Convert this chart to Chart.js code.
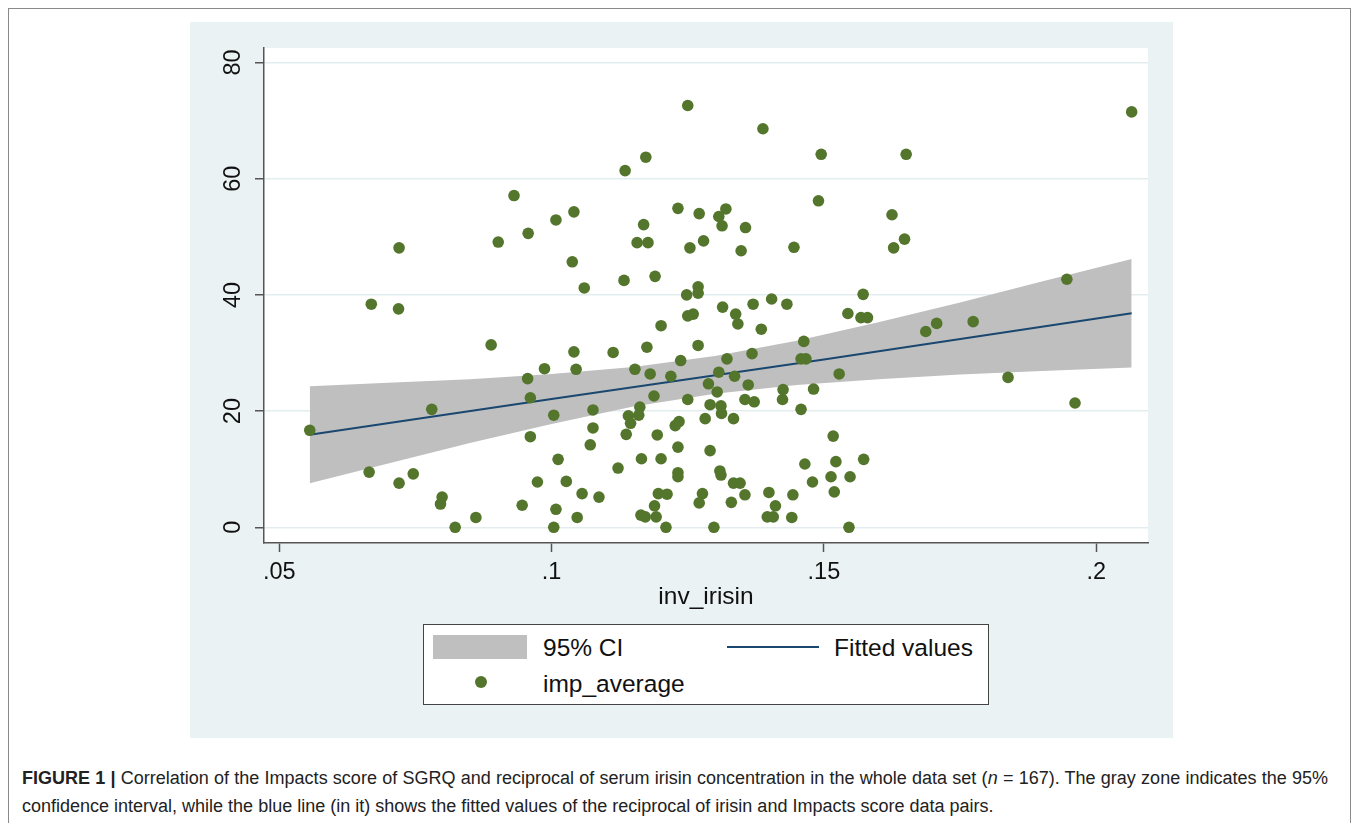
<!DOCTYPE html>
<html>
<head>
<meta charset="utf-8">
<script src="https://cdn.jsdelivr.net/npm/chart.js@4.4.1/dist/chart.umd.min.js"></script>
<style>
  html, body { margin: 0; padding: 0; background: #fff; }
  body { width: 1358px; height: 823px; position: relative; overflow: hidden; font-family: "Liberation Sans", Arial, sans-serif; }
  #frame { position: absolute; left: 8px; top: 8px; width: 1341px; height: 900px; border: 1px solid #8a8a8a; }
  #panel { position: absolute; left: 190px; top: 22px; width: 983px; height: 716px; background: #eaf2f3; }
  #myChart { position: absolute; left: 0; top: 0; }
  #legend { position: absolute; left: 233px; top: 602px; width: 564px; height: 79px; background: #fff; border: 1px solid #444; color: #111; font-size: 24.5px; }
  #legend .sw { position: absolute; }
  #legend .tx { position: absolute; line-height: 26px; white-space: nowrap; }
  #caption { position: absolute; left: 22px; top: 765px; width: 1306px; font-size: 18px; line-height: 27.5px; color: #222; text-align: justify; }
</style>
</head>
<body>
<div id="frame"></div>
<div id="panel">
  <canvas id="myChart" width="983" height="716"></canvas>
  <div id="legend">
    <div class="sw" style="left:9px;top:10px;width:94px;height:24px;background:#bfbfbf;"></div>
    <div class="tx" style="left:119px;top:10px;">95% CI</div>
    <div class="sw" style="left:303px;top:21px;width:92px;height:2px;background:#1a476f;"></div>
    <div class="tx" style="left:410px;top:10px;">Fitted values</div>
    <div class="sw" style="left:51px;top:51px;width:12px;height:12px;border-radius:50%;background:#54762c;"></div>
    <div class="tx" style="left:119px;top:46px;">imp_average</div>
  </div>
</div>
<div id="caption"><b>FIGURE 1 |</b> Correlation of the Impacts score of SGRQ and reciprocal of serum irisin concentration in the whole data set (<i>n</i> = 167). The gray zone indicates the 95% confidence interval, while the blue line (in it) shows the fitted values of the reciprocal of irisin and Impacts score data pairs.</div>
<script>
// scatter values
const invIrisin = [
  0.0556, 0.0669, 0.0719, 0.0720, 0.0665, 0.0720, 0.0746, 0.0780, 0.0799, 0.0796,
  0.0823, 0.0861, 0.0889, 0.0902, 0.0931, 0.0957, 0.0956, 0.0961, 0.0961, 0.0946,
  0.0974, 0.0987, 0.1008, 0.1004, 0.1012, 0.1008, 0.1004, 0.1027, 0.1041, 0.1038,
  0.1041, 0.1045, 0.1047, 0.1056, 0.1060, 0.1076, 0.1076, 0.1071, 0.1087, 0.1113,
  0.1122, 0.1133, 0.1135, 0.1153, 0.1162, 0.1160, 0.1141, 0.1145, 0.1137, 0.1165,
  0.1164, 0.1172, 0.1157, 0.1177, 0.1169, 0.1173, 0.1175, 0.1181, 0.1190, 0.1188,
  0.1194, 0.1189, 0.1192, 0.1196, 0.1212, 0.1210, 0.1201, 0.1201, 0.1219, 0.1227,
  0.1234, 0.1232, 0.1232, 0.1232, 0.1232, 0.1237, 0.1250, 0.1254, 0.1248, 0.1250,
  0.1260, 0.1250, 0.1269, 0.1269, 0.1269, 0.1271, 0.1279, 0.1277, 0.1271, 0.1282,
  0.1288, 0.1291, 0.1291, 0.1298, 0.1304, 0.1307, 0.1307, 0.1311, 0.1312, 0.1309,
  0.1311, 0.1313, 0.1314, 0.1320, 0.1322, 0.1330, 0.1334, 0.1346, 0.1334, 0.1336,
  0.1338, 0.1342, 0.1348, 0.1355, 0.1355, 0.1356, 0.1361, 0.1368, 0.1370, 0.1372,
  0.1385, 0.1388, 0.1399, 0.1396, 0.1407, 0.1411, 0.1404, 0.1425, 0.1424, 0.1432,
  0.1441, 0.1443, 0.1445, 0.1458, 0.1458, 0.1467, 0.1463, 0.1465, 0.1479, 0.1481,
  0.1490, 0.1495, 0.1513, 0.1517, 0.1519, 0.1522, 0.1528, 0.1544, 0.1546, 0.1548,
  0.1568, 0.1580, 0.1572, 0.1573, 0.1625, 0.1628, 0.1648, 0.1651, 0.1687, 0.1707,
  0.1774, 0.1838, 0.1946, 0.1961, 0.2065
];
const impAverage = [
  16.7, 38.4, 37.6, 48.1, 9.5, 7.6, 9.2, 20.3, 5.2, 4.0,
  0, 1.7, 31.4, 49.1, 57.1, 50.6, 25.6, 22.3, 15.6, 3.8,
  7.8, 27.3, 52.9, 19.3, 11.7, 3.1, 0, 7.9, 54.3, 45.7,
  30.2, 27.2, 1.7, 5.8, 41.2, 20.2, 17.1, 14.2, 5.2, 30.1,
  10.2, 42.5, 61.4, 27.2, 20.7, 19.3, 19.2, 17.9, 16.0, 11.8,
  2.1, 1.8, 49.0, 49.0, 52.1, 63.7, 31.0, 26.4, 43.2, 22.6,
  15.9, 3.7, 1.8, 5.8, 5.7, 0, 34.7, 11.8, 26.0, 17.5,
  18.2, 13.8, 9.4, 8.7, 54.9, 28.7, 72.6, 48.1, 40.0, 36.4,
  36.7, 22.0, 41.4, 40.3, 31.3, 54.0, 49.3, 5.8, 4.2, 18.7,
  24.7, 21.1, 13.2, 0, 23.3, 26.7, 53.5, 20.9, 19.6, 9.7,
  9.0, 51.9, 37.9, 54.8, 29.0, 4.3, 7.6, 7.6, 18.7, 26.0,
  36.7, 35.0, 47.6, 5.6, 22.0, 51.6, 24.5, 29.9, 38.4, 21.6,
  34.1, 68.6, 6.0, 1.8, 1.8, 3.7, 39.3, 23.7, 22.0, 38.4,
  1.7, 5.6, 48.2, 20.3, 29.0, 29.0, 32.0, 10.9, 7.8, 23.8,
  56.2, 64.2, 8.7, 15.7, 6.1, 11.3, 26.4, 36.8, 0, 8.7,
  36.1, 36.1, 40.1, 11.7, 53.8, 48.1, 49.6, 64.2, 33.7, 35.1,
  35.4, 25.8, 42.7, 21.4, 71.5
];

// fitted line and 95% CI band, read at a few x positions
const fitX = [0.0556, 0.1, 0.15, 0.2065];
const fitY = [15.95, 22.1, 28.9, 36.85];
const ciX  = [0.0556, 0.07, 0.085, 0.1, 0.115, 0.13, 0.145, 0.16, 0.175, 0.19, 0.2065];
const ciHi = [24.3, 24.9, 25.5, 26.4, 27.6, 29.5, 32.1, 35.3, 38.7, 42.3, 46.2];
const ciLo = [7.6, 11.0, 14.5, 17.8, 20.8, 23.0, 24.5, 25.5, 26.3, 26.9, 27.5];

const xTicks = [0.05, 0.1, 0.15, 0.2];
const yTicks = [0, 20, 40, 60, 80];

const font = "'Liberation Sans', Arial, sans-serif";
const textCol = '#111';

const toXY = (xs, ys) => xs.map((x, i) => ({x: x, y: ys[i]}));

const whiteArea = {
    id: 'whiteArea',
    beforeDraw(chart) {
        const {ctx, chartArea: a} = chart;
        ctx.save();
        ctx.fillStyle = '#fff';
        ctx.fillRect(a.left, a.top, a.right - a.left, a.bottom - a.top);
        ctx.restore();
    }
};

// stata style vertical y labels
const yLabels = {
    id: 'yLabels',
    afterDraw(chart) {
        const {ctx} = chart;
        const y = chart.scales.y;
        ctx.save();
        ctx.fillStyle = textCol;
        ctx.font = '23.5px ' + font;
        ctx.textAlign = 'center';
        ctx.textBaseline = 'middle';
        for (let v of yTicks) {
            ctx.save();
            ctx.translate(44, y.getPixelForValue(v));
            ctx.rotate(-Math.PI / 2);
            ctx.fillText(String(v), 0, 0);
            ctx.restore();
        }
        ctx.restore();
    }
};

const ctx = document.getElementById('myChart');
new Chart(ctx, {
    type: 'line',
    data: {
        datasets: [
            {label: 'lo', data: toXY(ciX, ciLo), borderWidth: 0, pointRadius: 0, fill: false, order: 3},
            {label: '95% CI', data: toXY(ciX, ciHi), borderWidth: 0, pointRadius: 0,
             fill: '-1', backgroundColor: '#bfbfbf', order: 2},
            {label: 'Fitted values', data: toXY(fitX, fitY), borderColor: '#1a476f', borderWidth: 2,
             pointRadius: 0, fill: false, order: 1},
            {label: 'imp_average', data: toXY(invIrisin, impAverage), showLine: false,
             pointRadius: 5.8, pointBorderWidth: 0, backgroundColor: '#54762c', borderColor: '#54762c', order: 0}
        ]
    },
    options: {
        responsive: false,
        animation: false,
        layout: {padding: {top: 26, right: 25, left: 0, bottom: 0}},
        plugins: {
            legend: {display: false},
            tooltip: {enabled: false}
        },
        scales: {
            x: {
                type: 'linear',
                min: 0.0472,
                max: 0.2095,
                afterBuildTicks: (s) => { s.ticks = xTicks.map(v => ({value: v})); },
                afterFit: (s) => { s.height = 195; },
                ticks: {
                    color: textCol,
                    font: {family: font, size: 23.5},
                    padding: 6,
                    maxRotation: 0,
                    callback: (v) => String(v).replace(/^0/, '')
                },
                grid: {drawOnChartArea: false, drawTicks: true, tickLength: 9, tickColor: '#555', tickWidth: 1.5},
                border: {display: true, color: '#555', width: 1.5},
                title: {display: true, text: 'inv_irisin', color: textCol,
                        font: {family: font, size: 24.5}, padding: {top: 0, bottom: 126}}
            },
            y: {
                type: 'linear',
                min: -2.7,
                max: 82.5,
                afterBuildTicks: (s) => { s.ticks = yTicks.map(v => ({value: v})); },
                afterFit: (s) => { s.width = 74; },
                ticks: {display: false},
                grid: {color: '#e3edf0', lineWidth: 1.5, drawTicks: true, tickLength: 9, tickColor: '#555', tickWidth: 1.5},
                border: {display: true, color: '#555', width: 1.5}
            }
        }
    },
    plugins: [whiteArea, yLabels]
});
</script>
</body>
</html>
